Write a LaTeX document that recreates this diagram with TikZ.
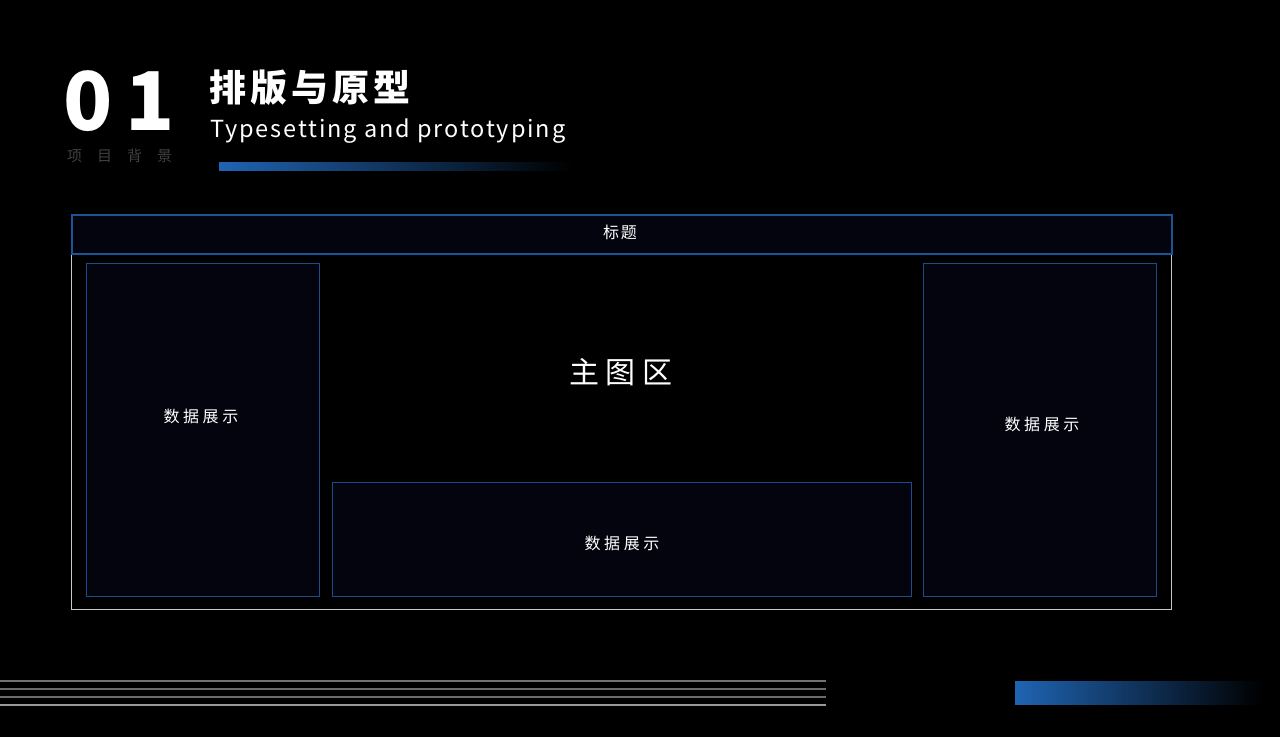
\documentclass[tikz,border=0pt]{standalone}
\usepackage{fontspec}
\setmainfont{Noto Sans CJK SC}
\newfontfamily\cjk{Noto Sans CJK SC}
\definecolor{bgblack}{HTML}{000000}
\definecolor{panelfill}{HTML}{03040E}
\definecolor{panelline}{HTML}{1A4C8C}
\definecolor{barblue}{HTML}{1F64B3}
\definecolor{framegray}{HTML}{C8C8C8}
\tikzset{
  panel/.style={draw=panelline, fill=panelfill, line width=1.2pt, rectangle, anchor=north west, inner sep=0},
  boxtext/.style={text=white, font=\cjk\fontsize{16}{16}\selectfont\addfontfeature{LetterSpace=22}, inner sep=0},
  rule/.style={line width=1.4pt}
}
\begin{document}
\begin{tikzpicture}[x=1pt,y=-1pt]
\fill[bgblack] (0,0) rectangle (1280,737);
\useasboundingbox (0,0) rectangle (1280,737);
% heading
\node[anchor=base west, inner sep=0, text=white, font=\cjk\bfseries\fontsize{81}{81}\selectfont\addfontfeature{LetterSpace=16}] (num) at (63,130) {01};
\node[anchor=west, inner sep=0, text=white, font=\cjk\bfseries\fontsize{37}{37}\selectfont\addfontfeature{LetterSpace=11}] (title) at (209,87.5) {排版与原型};
\node[anchor=base west, inner sep=0, text=white, font=\cjk\fontsize{23.5}{24}\selectfont\addfontfeature{LetterSpace=8}] (subtitle) at (210,137) {Typesetting and prototyping};
\node[anchor=west, inner sep=0, text=black!75!white, font=\cjk\fontsize{15}{15}\selectfont\addfontfeature{LetterSpace=100}] (tag) at (67,156) {项目背景};
\shade[left color=barblue, right color=bgblack] (219,162) rectangle (572,170);
% frame
\draw[framegray, line width=1pt] (71,214) rectangle (1171,609);
\node[panel, draw=barblue!85!black, line width=1.6pt, minimum width=1100, minimum height=39] (head) at (71,214) {};
\node[text=white, inner sep=0, font=\cjk\fontsize{16}{16}\selectfont\addfontfeature{LetterSpace=10}] (headtext) at (620,232) {标题};
\node[panel, minimum width=233, minimum height=333] (lpanel) at (86,263) {};
\node[panel, minimum width=233, minimum height=333] (rpanel) at (923,263) {};
\node[panel, minimum width=579, minimum height=114] (bpanel) at (332,482) {};
\node[boxtext] (ltext) at (201,416) {数据展示};
\node[boxtext] (rtext) at (1042,424) {数据展示};
\node[boxtext] (btext) at (622,543) {数据展示};
\node[text=white, inner sep=0, font=\cjk\fontsize{30}{30}\selectfont\addfontfeature{LetterSpace=22}] (main) at (621,372) {主图区};
% footer
\foreach \y/\c in {681/45, 689/42, 697/42, 705/60}
  \draw[rule, white!\c!black] (0,\y) -- (826,\y);
\shade[left color=barblue, right color=bgblack] (1015,681) rectangle (1262,704);
\end{tikzpicture}
\end{document}
